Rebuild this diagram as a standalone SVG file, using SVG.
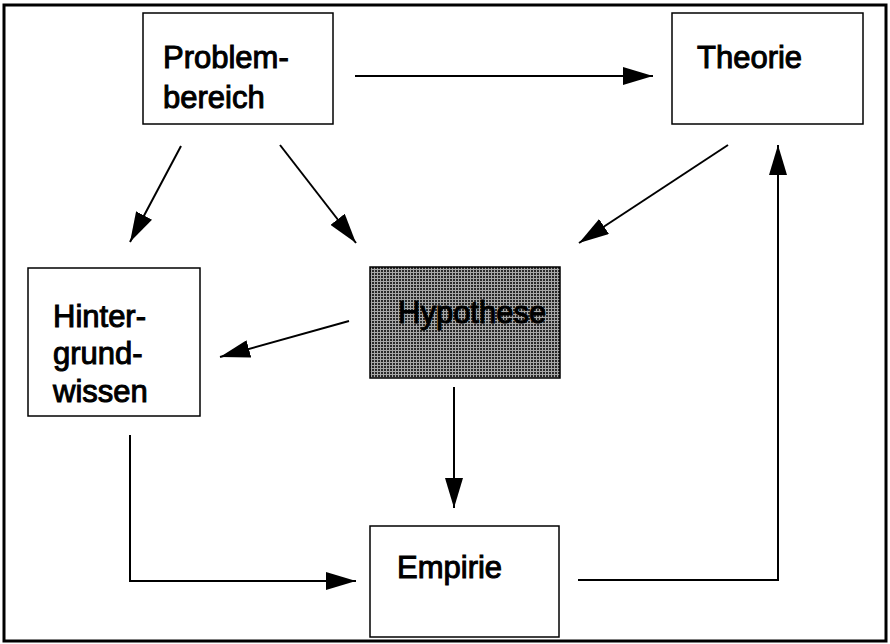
<svg xmlns="http://www.w3.org/2000/svg" width="890" height="644" viewBox="0 0 890 644">
<defs>
<marker id="ah" markerWidth="30" markerHeight="18" refX="30" refY="9" orient="auto" markerUnits="userSpaceOnUse">
<path d="M0,0 L30,9 L0,18 Z" fill="#000"/>
</marker>
<pattern id="dots" width="3" height="3" patternUnits="userSpaceOnUse">
<rect width="3" height="3" fill="#a8a8a8"/>
<rect width="2" height="2" fill="#2a2a2a"/>
</pattern>
</defs>
<style>
.box{fill:#fff;stroke:#000;stroke-width:1.5}
.lbl{font-family:"Liberation Sans",Arial,Helvetica,sans-serif;font-size:31px;fill:#000;stroke:#000;stroke-width:1}
.con{fill:none;stroke:#000;stroke-width:2}
</style>
<rect x="4" y="5" width="882" height="636" fill="#fff" stroke="#000" stroke-width="3"/>
<g id="connectors">
<line class="con" x1="355" y1="76" x2="653" y2="76" marker-end="url(#ah)"/>
<line class="con" x1="181" y1="146" x2="130" y2="242" marker-end="url(#ah)"/>
<line class="con" x1="280" y1="145" x2="356" y2="243" marker-end="url(#ah)"/>
<line class="con" x1="728" y1="145" x2="579" y2="243" marker-end="url(#ah)"/>
<line class="con" x1="349" y1="321" x2="220" y2="357" marker-end="url(#ah)"/>
<line class="con" x1="454" y1="387" x2="454" y2="508" marker-end="url(#ah)"/>
<polyline class="con" points="130,435 130,581 356,581" marker-end="url(#ah)"/>
<polyline class="con" points="578,580 778,580 778,145" marker-end="url(#ah)"/>
</g>
<g id="problembereich">
<rect class="box" x="143" y="13" width="190" height="111"/>
<text class="lbl" x="163" y="68">Problem-</text>
<text class="lbl" x="163" y="108">bereich</text>
</g>
<g id="theorie">
<rect class="box" x="672" y="13" width="191" height="111"/>
<text class="lbl" x="697" y="68">Theorie</text>
</g>
<g id="hintergrundwissen">
<rect class="box" x="28" y="268" width="172" height="148"/>
<text class="lbl" x="53" y="327">Hinter-</text>
<text class="lbl" x="53" y="364">grund-</text>
<text class="lbl" x="53" y="402">wissen</text>
</g>
<g id="hypothese">
<rect x="370" y="267" width="190" height="111" fill="url(#dots)" stroke="#000" stroke-width="1.5"/>
<text class="lbl" x="398" y="323">Hypothese</text>
</g>
<g id="empirie">
<rect class="box" x="370" y="526" width="189" height="111"/>
<text class="lbl" x="397" y="578">Empirie</text>
</g>
</svg>
